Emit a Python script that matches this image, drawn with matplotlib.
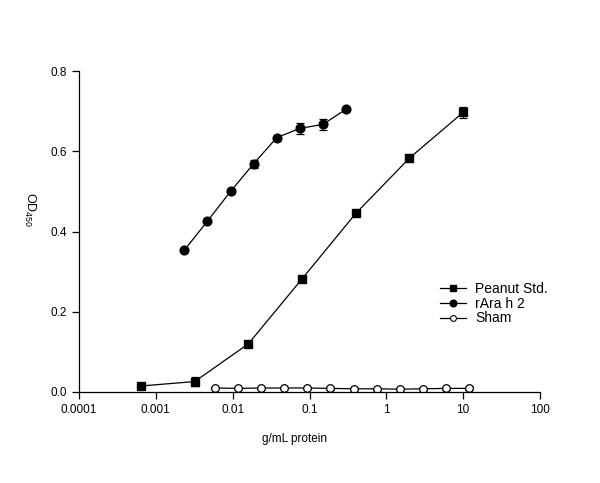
import matplotlib
matplotlib.use("Agg")
import matplotlib.pyplot as plt
from matplotlib.lines import Line2D

plt.rcParams['font.family'] = ['Liberation Sans', 'DejaVu Sans']
plt.rcParams['mathtext.fontset'] = 'custom'
plt.rcParams['mathtext.rm'] = 'Liberation Sans'

# Peanut Std. (filled squares), 5-fold dilutions
peanut_x = [0.00064, 0.0032, 0.016, 0.08, 0.4, 2.0, 10.0]
peanut_y = [0.015, 0.026, 0.120, 0.282, 0.445, 0.583, 0.697]
peanut_err = [0.005, 0.012, 0.005, 0.005, 0.004, 0.004, 0.014]

# rAra h 2 (filled circles), 2-fold dilutions
rara_x = [0.00234, 0.0047, 0.0094, 0.01875, 0.0375, 0.075, 0.15, 0.30]
rara_y = [0.353, 0.426, 0.500, 0.569, 0.634, 0.657, 0.667, 0.705]
rara_err = [0.004, 0.005, 0.005, 0.010, 0.004, 0.014, 0.014, 0.004]

# Sham (open circles), 2-fold dilutions
sham_x = [0.00586, 0.0117, 0.0234, 0.047, 0.094, 0.1875, 0.375, 0.75, 1.5, 3.0, 6.0, 12.0]
sham_y = [0.010, 0.009, 0.010, 0.010, 0.010, 0.009, 0.008, 0.008, 0.007, 0.008, 0.009, 0.009]
sham_err = [0.002, 0.002, 0.002, 0.002, 0.002, 0.003, 0.002, 0.003, 0.002, 0.002, 0.003, 0.003]

xticks = [0.0001, 0.001, 0.01, 0.1, 1, 10, 100]
xticklabels = ['0.0001', '0.001', '0.01', '0.1', '1', '10', '100']
yticks = [0.0, 0.2, 0.4, 0.6, 0.8]
yticklabels = ['0.0', '0.2', '0.4', '0.6', '0.8']

fig = plt.figure(figsize=(6.0, 4.83), dpi=100)
ax = fig.add_axes([79/600, 91/483, 461/600, 321/483])

lw = 0.9
ax.errorbar(peanut_x, peanut_y, yerr=peanut_err, color='black', marker='s', ms=5.5,
            mfc='black', mec='black', lw=lw, elinewidth=lw, capsize=3.2, capthick=lw)
ax.errorbar(rara_x, rara_y, yerr=rara_err, color='black', marker='o', ms=6.3,
            mfc='black', mec='black', lw=lw, elinewidth=lw, capsize=3.2, capthick=lw)
ax.errorbar(sham_x, sham_y, yerr=sham_err, color='black', marker='o', ms=5.5,
            mfc='white', mec='black', mew=0.9, lw=lw, elinewidth=lw, capsize=3.2, capthick=lw)

ax.set_xscale('log')
ax.set_xlim(0.0001, 100)
ax.set_ylim(0.0, 0.8)
ax.set_xticks(xticks)
ax.set_xticklabels(xticklabels)
ax.set_yticks(yticks)
ax.set_yticklabels(yticklabels)
ax.xaxis.set_minor_locator(matplotlib.ticker.NullLocator())

for s in ['top', 'right']:
    ax.spines[s].set_visible(False)
for s in ['left', 'bottom']:
    ax.spines[s].set_linewidth(0.9)
ax.tick_params(axis='both', direction='out', length=5, width=0.9, labelsize=8.5, pad=3.5)

fig.text(295/600, 1 - 439/483, 'g/mL protein', ha='center', va='center', fontsize=8.5)
fig.text(30/600, 1 - 192/483, r'OD$_{450}$', rotation=-90, ha='center', va='top', fontsize=9)

handles = [
    Line2D([], [], color='black', lw=lw, marker='s', ms=4.2, mfc='black', mec='black'),
    Line2D([], [], color='black', lw=lw, marker='o', ms=4.8, mfc='black', mec='black'),
    Line2D([], [], color='black', lw=lw, marker='o', ms=4.2, mfc='white', mec='black', mew=0.8),
]
labels = ['Peanut Std.', 'rAra h 2', 'Sham']
leg = ax.legend(handles, labels, loc='upper left',
                bbox_to_anchor=((440 - 79) / 461, (392 - 282) / 321),
                frameon=False, fontsize=10, handlelength=1.9, handletextpad=0.65,
                labelspacing=0.05, borderaxespad=0, borderpad=0)

fig.savefig('out.png', dpi=100)
